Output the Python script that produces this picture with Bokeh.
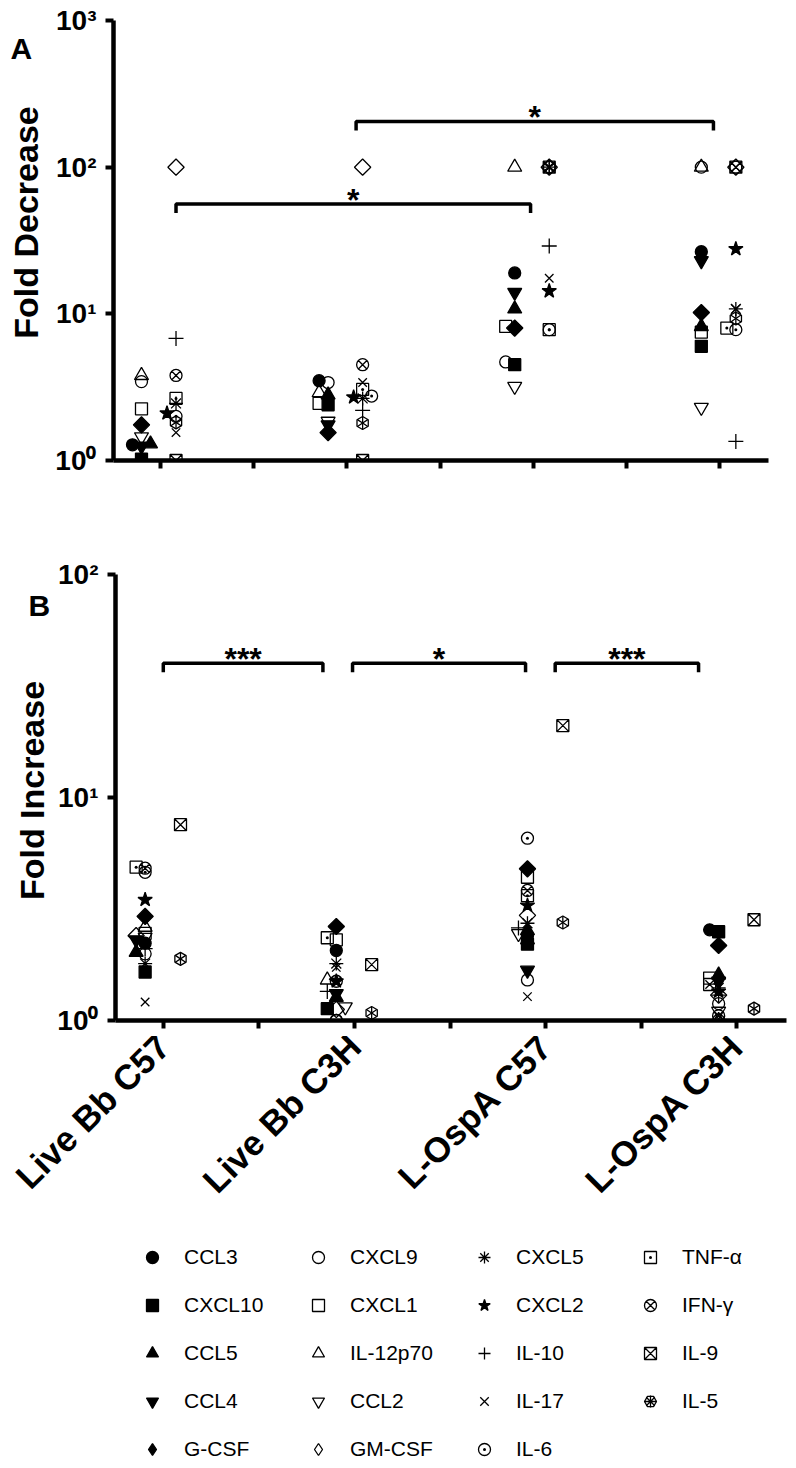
import math
import numpy as np
from bokeh.plotting import figure
from bokeh.models import (Range1d, FixedTicker, Legend, LegendItem,
                          ColumnDataSource)
from bokeh.layouts import column, row
from bokeh.embed import file_html
from bokeh.resources import INLINE
from bokeh.core.properties import value

# ---------------- data ----------------
groups = ["Live Bb C57", "Live Bb C3H", "L-OspA C57", "L-OspA C3H"]
cytokines = ["CCL3", "CXCL10", "CCL5", "CCL4", "G-CSF",
             "CXCL9", "CXCL1", "IL-12p70", "CCL2", "GM-CSF",
             "CXCL5", "CXCL2", "IL-10", "IL-17", "IL-6",
             "TNF-α", "IFN-γ", "IL-9", "IL-5"]

# Panel A: fold decrease (values in cytokine order)
decrease_live_bb_c57 = [1.28, 1.02, 1.3, 1.25, 1.75, 3.45, 2.25, 3.8, 1.45, 100,
                        2.45, 2.1, 6.8, 1.55, 2.0, 2.65, 3.8, 1.0, 1.82]
decrease_live_bb_c3h = [3.5, 2.4, 2.8, 1.75, 1.55, 3.4, 2.45, 2.9, 1.85, 100,
                        2.65, 2.7, 2.2, 3.4, 2.75, 3.05, 4.5, 1.0, 1.8]
decrease_lospa_c57 = [19, 4.5, 10.8, 14, 8.0, 4.7, 8.2, 100, 3.2, 100,
                      100, 14.3, 29, 17.5, 7.8, 7.8, 100, 100, 100]
decrease_lospa_c3h = [26.5, 6.0, 8.2, 23, 10.2, 100, 7.5, 100, 2.3, 100,
                      10.8, 27.7, 1.35, 10.8, 7.8, 8.0, 100, 100, 9.3]

# Panel B: fold increase
increase_live_bb_c57 = [2.22, 1.65, 2.02, 2.3, 2.93, 1.99, 2.46, 2.62, 2.36, 2.4,
                        1.8, 3.48, 2.1, 1.21, 4.62, 4.87, 4.82, 7.55, 1.89]
increase_live_bb_c3h = [2.06, 1.13, 1.27, 1.32, 2.64, 1.0, 2.3, 1.52, 1.15, 1.12,
                        1.8, 1.5, 1.35, 1.73, 1.0, 2.35, 1.5, 1.78, 1.08]
increase_lospa_c57 = [2.4, 2.2, 2.53, 1.68, 4.79, 1.52, 4.39, 2.3, 2.45, 2.96,
                      2.73, 3.28, 2.6, 1.28, 6.57, 3.63, 3.83, 21, 2.75]
increase_lospa_c3h = [2.55, 2.5, 1.6, 1.5, 2.17, 1.19, 1.55, 1.0, 1.1, 1.3,
                      1.4, 1.35, 1.3, 1.45, 1.0, 1.45, 1.05, 2.83, 1.13]

# which cytokines are plotted in the right-hand sub-column of each group
right_col_decrease = ["GM-CSF", "CXCL5", "CXCL2", "IL-10", "IL-17", "IL-6",
                      "TNF-α", "IFN-γ", "IL-9", "IL-5"]
right_col_increase = ["IL-9", "IL-5"]

# significance brackets
sig_a_from = [1.17, 3.1]
sig_a_to = [4.97, 6.93]
sig_a_level = [56, 205]
sig_a_text = ["*", "*"]
sig_b_from = [1.0, 2.98, 5.1]
sig_b_to = [2.67, 4.79, 6.6]
sig_b_level = [40, 40, 40]
sig_b_text = ["***", "*", "***"]

panel_letters = ["A", "B"]
panel_titles = ["Fold Decrease", "Fold Increase"]

for arr in (decrease_live_bb_c57, decrease_live_bb_c3h, decrease_lospa_c57,
            decrease_lospa_c3h, increase_live_bb_c57, increase_live_bb_c3h,
            increase_lospa_c57, increase_lospa_c3h):
    assert len(arr) == len(cytokines)

# ---------------- styles ----------------
FONT = "Liberation Sans"
Q = math.pi / 4
marker_specs = {
    "CCL3": [dict(marker="circle", size=12, fill=True)],
    "CXCL10": [dict(marker="square", size=12, fill=True)],
    "CCL5": [dict(marker="triangle", size=14, fill=True)],
    "CCL4": [dict(marker="inverted_triangle", size=14, fill=True)],
    "G-CSF": [dict(marker="square", size=11.5, fill=True, angle=Q)],
    "CXCL9": [dict(marker="circle", size=12, fill=False)],
    "CXCL1": [dict(marker="square", size=12, fill=False)],
    "IL-12p70": [dict(marker="triangle", size=14, fill=False)],
    "CCL2": [dict(marker="inverted_triangle", size=14, fill=False)],
    "GM-CSF": [dict(marker="square", size=11.5, fill=False, angle=Q)],
    "CXCL5": [dict(marker="asterisk", size=14, fill=False)],
    "CXCL2": [dict(marker="star", size=15, fill=True)],
    "IL-10": [dict(marker="cross", size=15, fill=False)],
    "IL-17": [dict(marker="x", size=12, fill=False)],
    "IL-6": [dict(marker="circle_dot", size=12, fill=False)],
    "TNF-α": [dict(marker="square_dot", size=12, fill=False)],
    "IFN-γ": [dict(marker="circle_x", size=12, fill=False)],
    "IL-9": [dict(marker="square_x", size=12, fill=False)],
    "IL-5": [dict(marker="hex", size=13, fill=False, angle=math.pi / 2),
             dict(marker="y", size=12, fill=False),
             dict(marker="y", size=12, fill=False, angle=math.pi)],
}
# the key draws glyphs unrotated, so use equivalent unrotated symbols there
key_specs = dict(marker_specs)
key_specs["G-CSF"] = [dict(marker="diamond", size=14, fill=True)]
key_specs["GM-CSF"] = [dict(marker="diamond", size=14, fill=False)]
key_specs["IL-5"] = [dict(marker="hex", size=13, fill=False),
                     dict(marker="asterisk", size=13, fill=False)]


def no_align(p):
    try:
        p.frame_align = False
    except Exception:
        pass


def bare(p):
    p.xgrid.grid_line_color = None
    p.ygrid.grid_line_color = None
    p.outline_line_color = None
    no_align(p)


def swarm(vals, px_per_decade, px_per_unit):
    """Spread nearly coincident (but not identical) points sideways."""
    order = sorted(range(len(vals)), key=lambda i: vals[i])
    placed = []
    offs = [0.0] * len(vals)
    step = 9.0
    for i in order:
        ypx = math.log10(vals[i]) * px_per_decade
        chosen = 0.0
        same = [pxo for (py, pxo, v) in placed if v == vals[i]]
        if same:
            chosen = same[0]
        else:
            for k in (0, -1, 1, -2, 2):
                xo = k * step
                if all(not (abs(ypx - py) < 3.5 and abs(xo - pxo) < 8)
                       for py, pxo, v in placed):
                    chosen = xo
                    break
        placed.append((ypx, chosen, vals[i]))
        offs[i] = chosen / px_per_unit
    return offs


def style_axes(p):
    for ax in (p.xaxis[0], p.yaxis[0]):
        ax.axis_line_width = 4.5
        ax.axis_line_color = "black"
        ax.major_tick_line_width = 4
        ax.major_tick_line_color = "black"
        ax.major_tick_out = 8
        ax.major_tick_in = 0
        ax.major_label_text_font = FONT
        ax.major_label_text_font_style = "bold"
        ax.major_label_text_color = "black"
    p.yaxis.minor_tick_line_color = None
    # group ticks on the x axis are drawn as unlabelled minor ticks
    p.xaxis.ticker = FixedTicker(ticks=[], minor_ticks=[1, 2, 3, 4, 5, 6, 7])
    p.xaxis.minor_tick_line_width = 4
    p.xaxis.minor_tick_line_color = "black"
    p.xaxis.minor_tick_out = 8
    p.xaxis.minor_tick_in = 0
    p.yaxis.major_label_text_font_size = "28px"
    p.yaxis.major_label_standoff = 9
    bare(p)


def add_markers(p, c, src, specs):
    rl = []
    for spec in specs[c]:
        r = p.scatter(x="x", y="y", source=src, marker=spec["marker"],
                      size=spec["size"], angle=spec.get("angle", 0.0),
                      fill_color="black" if spec["fill"] else None,
                      line_color="black", line_width=1.3)
        rl.append(r)
    return rl


def draw_panel(p, group_values, right_set, px_per_decade, px_per_unit,
               left_shift, right_shift):
    xs = {c: [] for c in cytokines}
    ys = {c: [] for c in cytokines}
    for g, vals in enumerate(group_values):
        center = 2 * g + 1
        for side in (0, 1):
            idx = [i for i, c in enumerate(cytokines) if (c in right_set) == bool(side)]
            offs = swarm([vals[i] for i in idx], px_per_decade, px_per_unit)
            base = center + (right_shift if side else left_shift)
            for j, i in enumerate(idx):
                xs[cytokines[i]].append(base + offs[j])
                ys[cytokines[i]].append(vals[i])
    for c in cytokines:
        add_markers(p, c, ColumnDataSource(dict(x=xs[c], y=ys[c])), marker_specs)


def draw_sig(p, starts, ends, levels, texts, drop_factor):
    bx, by = [], []
    for s, e, lv in zip(starts, ends, levels):
        bx.append([s, s, e, e])
        by.append([lv * drop_factor, lv, lv, lv * drop_factor])
    p.multi_line(xs=bx, ys=by, line_color="black", line_width=3.5)
    mids = [(s + e) / 2 for s, e in zip(starts, ends)]
    p.text(x=mids, y=levels, text=texts, text_font=value(FONT),
           text_font_style="bold", text_font_size="32px", text_align="center",
           text_baseline="middle", y_offset=-4, text_color="black")


LEFT_W = 50
A_H = 520
B_H = 516
LAB_H = 196
X_RANGE = (0.5, 7.52)

# ---------------- left strip: panel letters and y-axis titles ----------------
pLeft = figure(width=LEFT_W, height=A_H + B_H, title=None,
               x_range=Range1d(0, LEFT_W), y_range=Range1d(A_H + B_H, 0),
               output_backend="svg", toolbar_location=None,
               min_border=0, min_border_left=0, min_border_right=0,
               min_border_top=0, min_border_bottom=0)
pLeft.axis.visible = False
bare(pLeft)
pLeft.text(x=[10, 28], y=[48, 605], text=panel_letters, text_font=value(FONT),
           text_font_style="bold", text_font_size="30px", text_align="left",
           text_baseline="middle", text_color="black")
pLeft.text(x=[25, 31], y=[222, 790], text=panel_titles, angle=math.pi / 2,
           text_font=value(FONT), text_font_style="bold", text_font_size="34px",
           text_align="center", text_baseline="middle", text_color="black")

# ---------------- panel A ----------------
pA = figure(width=796 - LEFT_W, height=A_H, title=None,
            x_range=Range1d(*X_RANGE), y_range=Range1d(1, 1000),
            y_axis_type="log", output_backend="svg", toolbar_location=None,
            min_border_left=113 - LEFT_W, min_border_right=28, min_border_top=20,
            min_border_bottom=60)
style_axes(pA)
pA.yaxis.ticker = FixedTicker(ticks=[1, 10, 100, 1000], minor_ticks=[])
pA.yaxis.major_label_overrides = {1: "10⁰", 10: "10¹", 100: "10²", 1000: "10³"}
A_PX_DEC = 440 / 3.0
A_PX_UNIT = 655 / 7.02
draw_panel(pA, [decrease_live_bb_c57, decrease_live_bb_c3h,
                decrease_lospa_c57, decrease_lospa_c3h],
           right_col_decrease, A_PX_DEC, A_PX_UNIT, -0.2, 0.17)
draw_sig(pA, sig_a_from, sig_a_to, sig_a_level, sig_a_text,
         10 ** (-9 / A_PX_DEC))

# ---------------- panel B ----------------
pB = figure(width=796 - LEFT_W, height=B_H, title=None,
            x_range=Range1d(*X_RANGE), y_range=Range1d(1, 100),
            y_axis_type="log", output_backend="svg", toolbar_location=None,
            min_border_left=115 - LEFT_W, min_border_right=10, min_border_top=54,
            min_border_bottom=B_H - 54 - 446)
style_axes(pB)
pB.yaxis.ticker = FixedTicker(ticks=[1, 10, 100], minor_ticks=[])
pB.yaxis.major_label_overrides = {1: "10⁰", 10: "10¹", 100: "10²"}
B_PX_DEC = 446 / 2.0
B_PX_UNIT = 671 / 7.02
draw_panel(pB, [increase_live_bb_c57, increase_live_bb_c3h,
                increase_lospa_c57, increase_lospa_c3h],
           right_col_increase, B_PX_DEC, B_PX_UNIT, -0.19, 0.18)
draw_sig(pB, sig_b_from, sig_b_to, sig_b_level, sig_b_text,
         10 ** (-9 / B_PX_DEC))

# ---------------- group names under panel B (same x scale) ----------------
pLab = figure(width=796, height=LAB_H, title=None,
              x_range=Range1d(*X_RANGE), y_range=Range1d(0, 1),
              output_backend="svg", toolbar_location=None,
              min_border_left=115, min_border_right=10, min_border_top=0,
              min_border_bottom=LAB_H - 2)
bare(pLab)
pLab.yaxis.visible = False
pLab.xaxis.ticker = FixedTicker(ticks=[1, 3, 5, 7], minor_ticks=[])
pLab.xaxis.major_label_overrides = {1: groups[0], 3: groups[1],
                                    5: groups[2], 7: groups[3]}
pLab.xaxis.axis_line_color = None
pLab.xaxis.major_tick_line_color = None
pLab.xaxis.minor_tick_line_color = None
pLab.xaxis.major_tick_out = 0
pLab.xaxis.major_tick_in = 0
pLab.xaxis.major_label_text_font = FONT
pLab.xaxis.major_label_text_font_style = "bold"
pLab.xaxis.major_label_text_font_size = "35px"
pLab.xaxis.major_label_text_color = "black"
pLab.xaxis.major_label_orientation = math.pi / 4
pLab.xaxis.major_label_standoff = 2

# ---------------- symbol key ----------------
KEY_H = 1468 - A_H - B_H - LAB_H
pKey = figure(width=796, height=KEY_H, title=None,
              x_range=Range1d(0, 1), y_range=Range1d(0, 1),
              output_backend="svg", toolbar_location=None,
              min_border=0, min_border_left=0, min_border_right=0,
              min_border_top=0, min_border_bottom=0)
pKey.axis.visible = False
bare(pKey)
key_items = []
for c in cytokines:
    key_src = ColumnDataSource(dict(x=np.array([np.nan]), y=np.array([np.nan])))
    key_items.append(LegendItem(label=c, renderers=add_markers(pKey, c, key_src, key_specs)))
legend = Legend(items=key_items, orientation="vertical", nrows=5,
                location=(136, 4),
                glyph_width=32, glyph_height=30, spacing=18, label_standoff=16,
                label_width=100, padding=0, margin=0,
                label_text_font=FONT, label_text_font_size="21px",
                label_text_color="black", border_line_color=None,
                background_fill_alpha=0)
pKey.add_layout(legend)

layout = column(row(pLeft, column(pA, pB, spacing=0), spacing=0), pLab, pKey,
                spacing=0)
open("out.html", "w").write(file_html(layout, INLINE))
